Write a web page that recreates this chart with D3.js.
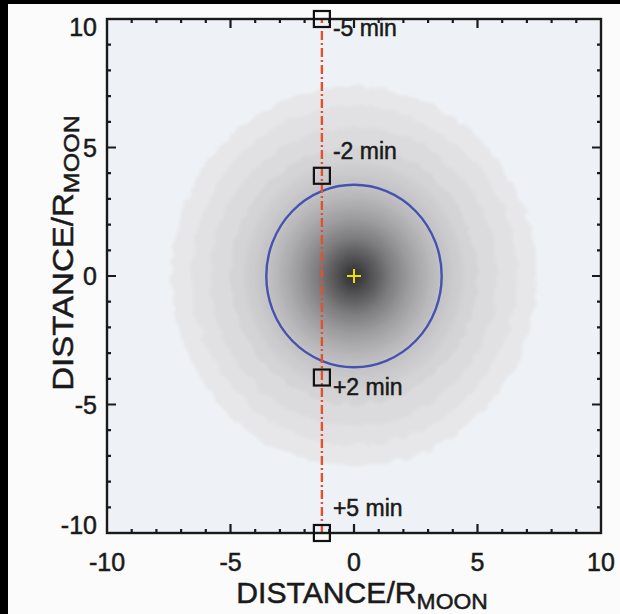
<!DOCTYPE html>
<html><head><meta charset="utf-8">
<script src="https://cdn.jsdelivr.net/npm/d3@7"></script>
<style>html,body{margin:0;padding:0;background:#000;}svg{display:block;}</style>
</head><body>
<script>
// ---- data ----
const xDomain = [-10, 10];
const yDomain = [-10, 10];
const majorTicks = [-10, -5, 0, 5, 10];
const minorTicks = [-9, -8, -7, -6, -4, -3, -2, -1, 1, 2, 3, 4, 6, 7, 8, 9];
const trajectoryX = -1.3;
const trajectoryY = [-10, 10];
const markerY = [10, 3.9, -3.95, -10];
const markerLabels = ["-5 min", "-2 min", "+2 min", "+5 min"];
const moonRadius = 3.55;
const centre = [0, 0];
// concentric density levels: radius (R_moon) and grey value
const densityRadii = [7.4, 6.6, 5.8, 5.0, 4.4, 3.9, 3.4, 3.0, 2.6, 2.2, 1.85, 1.5, 1.2, 0.9, 0.6, 0.35];
const densityGrey  = [231, 225, 219, 212, 204, 196, 186, 174, 161, 147, 132, 116, 100, 84, 68, 56];

// ---- layout ----
const W = 620, H = 614;
const x0 = 107, x1 = 601, y0 = 19, y1 = 533;
const font = "Liberation Sans, Arial, sans-serif";
const ink = "#1a1a1a";
const svg = d3.select("body").append("svg").attr("width", W).attr("height", H);
svg.append("rect").attr("width", W).attr("height", H).attr("fill", "#fbfbfb");
svg.append("rect").attr("width", 8).attr("height", H).attr("fill", "#000");
svg.append("rect").attr("width", W).attr("height", 4).attr("fill", "#000");

const x = d3.scaleLinear().domain(xDomain).range([x0, x1]);
const y = d3.scaleLinear().domain(yDomain).range([y1, y0]);

const defs = svg.append("defs");
defs.append("clipPath").attr("id", "clip").append("rect")
  .attr("x", x0).attr("y", y0).attr("width", x1 - x0).attr("height", y1 - y0);
const f = defs.append("filter").attr("id", "rough").attr("x", "-20%").attr("y", "-20%").attr("width", "140%").attr("height", "140%");
f.append("feTurbulence").attr("type", "fractalNoise").attr("baseFrequency", 0.08).attr("numOctaves", 2).attr("seed", 5).attr("result", "n");
f.append("feDisplacementMap").attr("in", "SourceGraphic").attr("in2", "n").attr("scale", 10)
  .attr("xChannelSelector", "R").attr("yChannelSelector", "G").attr("result", "d");
f.append("feGaussianBlur").attr("in", "d").attr("stdDeviation", 1.5);
const f2 = defs.append("filter").attr("id", "soft").attr("x", "-20%").attr("y", "-20%").attr("width", "140%").attr("height", "140%");
f2.append("feGaussianBlur").attr("stdDeviation", 3);

const plot = svg.append("g").attr("clip-path", "url(#clip)");
plot.append("rect").attr("x", x0).attr("y", y0).attr("width", x1 - x0).attr("height", y1 - y0).attr("fill", "#eef2f6");

const outer = plot.append("g").attr("filter", "url(#rough)");
const inner = plot.append("g").attr("filter", "url(#soft)");
densityRadii.forEach((r, i) => {
  const g = densityGrey[i];
  (r > 4.5 ? outer : inner).append("ellipse")
    .attr("cx", x(centre[0])).attr("cy", y(centre[1]))
    .attr("rx", x(r) - x(0)).attr("ry", y(0) - y(r))
    .attr("fill", d3.rgb(g, g, g + 2));
});

// moon circle
plot.append("ellipse")
  .attr("cx", x(centre[0])).attr("cy", y(centre[1]))
  .attr("rx", x(moonRadius) - x(0)).attr("ry", y(0) - y(moonRadius))
  .attr("fill", "none").attr("stroke", "#4552b0").attr("stroke-width", 2.4);

// centre plus
const cx = x(centre[0]), cy = y(centre[1]);
plot.append("path").attr("d", `M${cx-7},${cy}H${cx+7}M${cx},${cy-7}V${cy+7}`)
  .attr("stroke", "#ece000").attr("stroke-width", 2);

// trajectory
svg.append("line")
  .attr("x1", x(trajectoryX)).attr("x2", x(trajectoryX))
  .attr("y1", y(trajectoryY[0])).attr("y2", y(trajectoryY[1]))
  .attr("stroke", "#e4502c").attr("stroke-width", 2.4).attr("stroke-dasharray", "9,3,2,3");

// axes frame and ticks
const frame = svg.append("g");
frame.append("rect").attr("x", x0).attr("y", y0).attr("width", x1 - x0).attr("height", y1 - y0)
  .attr("fill", "none").attr("stroke", ink).attr("stroke-width", 2.4);
function ticks(vals, len) {
  vals.forEach(v => {
    const xv = x(v), yv = y(v);
    frame.append("path").attr("d",
      `M${xv},${y1}V${y1 - len}M${xv},${y0}V${y0 + len}M${x0},${yv}H${x0 + len}M${x1},${yv}H${x1 - len}`)
      .attr("stroke", ink).attr("stroke-width", 2.2);
  });
}
ticks(minorTicks, 4);
ticks(majorTicks.slice(1, -1), 9);

function styleText(t, size) {
  return t.attr("font-family", font).attr("font-size", size).attr("fill", ink)
    .attr("stroke", ink).attr("stroke-width", 0.5);
}

// markers
markerY.forEach((v, i) => {
  svg.append("rect").attr("x", x(trajectoryX) - 8).attr("y", y(v) - 8)
    .attr("width", 16).attr("height", 16)
    .attr("fill", "none").attr("stroke", "#111").attr("stroke-width", 2.2);
  const below = (i === 0 || i === 2);
  styleText(svg.append("text"), 23).attr("x", x(trajectoryX) + 11)
    .attr("y", below ? y(v) + 17 : y(v) - 17)
    .text(markerLabels[i]);
});

// tick labels
majorTicks.forEach(v => {
  styleText(svg.append("text"), 25).attr("x", x(v)).attr("y", 571).attr("text-anchor", "middle").text(v);
  let ty = y(v) + 9;
  if (v === 10) ty = y(v) + 17;
  if (v === -10) ty = y(v) + 1;
  styleText(svg.append("text"), 25).attr("x", 97).attr("y", ty).attr("text-anchor", "end").text(v);
});

// axis titles
function title(t) {
  styleText(t, 29);
  t.append("tspan").text("DISTANCE/R");
  t.append("tspan").attr("font-size", 22).attr("dy", 6).text("MOON");
}
title(svg.append("text").attr("transform", "translate(362,603) scale(1.04,1)").attr("text-anchor", "middle"));
title(svg.append("text").attr("transform", "translate(73,253) rotate(-90) scale(1.14,1)").attr("text-anchor", "middle"));
</script>
</body></html>
